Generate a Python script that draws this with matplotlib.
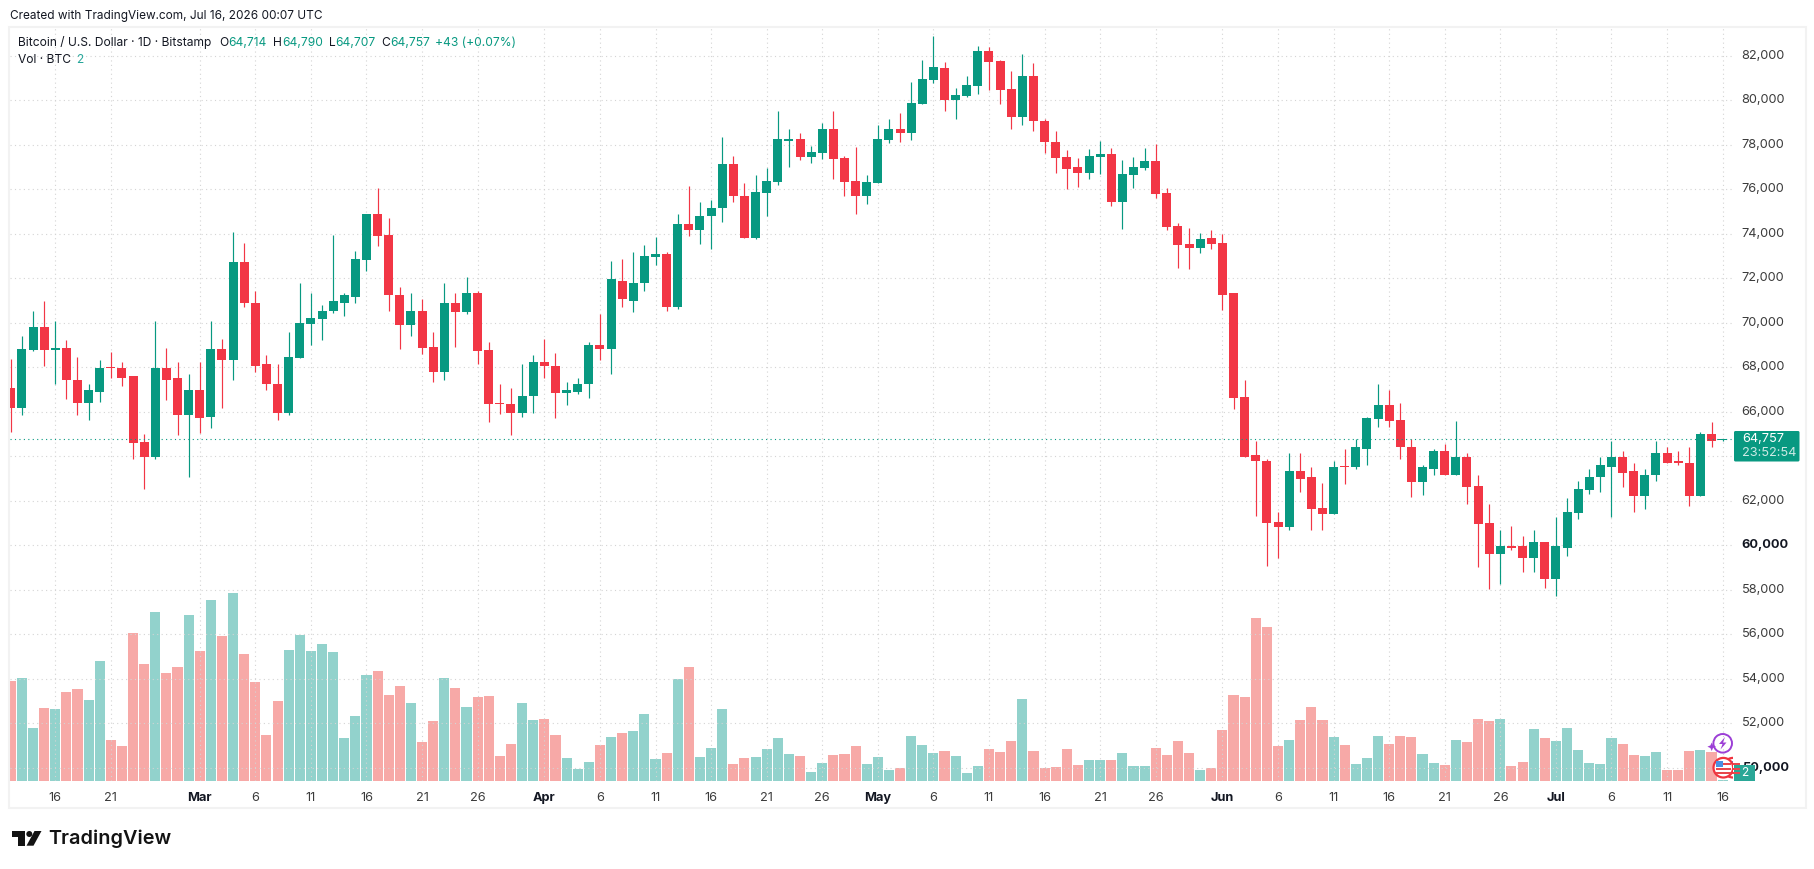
import numpy as np
import pandas as pd
import matplotlib
matplotlib.use("Agg")
import matplotlib.pyplot as plt
from matplotlib.patches import Circle, FancyBboxPatch, Polygon, Rectangle
from matplotlib.transforms import ScaledTranslation

plt.rcParams["font.family"] = ["Inter", "DejaVu Sans"]

# daily BTC/USD candles from 12 Feb 2026
dates = pd.date_range("2026-02-12", periods=155, freq="D")

opens = [
    67050, 66150, 68760, 69790, 68760, 68850, 67450, 66380, 66910, 67990,
    67950, 67590, 64620, 63990, 67990, 67500, 65840, 66960, 65750, 68800,
    68310, 72710, 70910, 68130, 67270, 65930, 68400, 69930, 70150, 70510,
    70910, 71180, 72800, 74870, 73930, 71230, 69880, 70510, 68890, 67810,
    70870, 70470, 71320, 68760, 66380, 66330, 65930, 66690, 68220, 68080,
    66830, 66910, 67230, 68980, 68800, 71900, 71000, 71770, 72940, 73070,
    70690, 74460, 74150, 74780, 75140, 77120, 75720, 73790, 75810, 76310,
    78190, 78280, 77430, 77610, 78690, 77390, 76350, 75720, 76260, 78200,
    78690, 78510, 79810, 80890, 81430, 79990, 80170, 80620, 82200, 81750,
    80490, 79270, 81070, 79090, 78110, 77430, 76980, 76710, 77430, 77570,
    75410, 76620, 76940, 77250, 75810, 74330, 73520, 73340, 73790, 73570,
    71320, 66650, 64040, 63810, 61030, 60800, 63320, 63050, 61660, 61390,
    63540, 63500, 64350, 65660, 66290, 65610, 64440, 62830, 63450, 64220,
    63180, 63950, 62650, 60980, 59630, 59990, 59950, 59410, 60170, 58470,
    59900, 61430, 62470, 63050, 63540, 63990, 63320, 62200, 63140, 64130,
    63770, 63720, 62200, 64980, 64714,
]
highs = [
    68350, 69390, 70510, 70960, 70060, 69210, 68440, 67270, 68310, 68670,
    68220, 67630, 64980, 70060, 68850, 68220, 67720, 68220, 70100, 69250,
    74060, 73570, 71410, 68530, 68170, 69570, 71770, 71320, 70820, 73930,
    71320, 73210, 74910, 76040, 74690, 71590, 71360, 71090, 69570, 71810,
    71360, 72040, 71410, 69120, 67230, 67050, 68130, 68530, 69250, 68620,
    67360, 67540, 69120, 70380, 72760, 72850, 73160, 73480, 73840, 73160,
    74910, 76130, 75450, 75540, 78370, 77480, 76260, 76620, 76940, 79500,
    78690, 78550, 77930, 78960, 79500, 77480, 77880, 76620, 78910, 79180,
    79450, 80800, 81790, 82870, 81700, 80530, 81070, 82460, 82380, 81790,
    81300, 82060, 81660, 79180, 78600, 77750, 77390, 77790, 78150, 77840,
    77300, 77430, 77840, 78020, 76040, 74470, 74240, 74020, 74150, 73970,
    71320, 67410, 64670, 63900, 61480, 64170, 64170, 63500, 62780, 63810,
    64350, 64760, 65750, 67230, 66960, 66380, 64760, 63590, 64310, 64530,
    65570, 64170, 63140, 61840, 60670, 60850, 60440, 60670, 60170, 61250,
    62110, 62870, 63450, 63950, 64670, 64260, 63720, 63450, 64670, 64440,
    64220, 64400, 65070, 65520, 64790,
]
lows = [
    65070, 65840, 68710, 68040, 67270, 66560, 65840, 65610, 66420, 67500,
    67140, 63860, 62510, 63900, 66510, 64940, 63050, 65030, 65250, 66150,
    67410, 70690, 67770, 66960, 65610, 65840, 68400, 68980, 69210, 70420,
    70290, 70870, 72310, 73430, 70510, 68800, 69390, 68580, 67360, 67450,
    68890, 70380, 68130, 65520, 65880, 64940, 65750, 65930, 67540, 65700,
    66290, 66780, 66600, 68340, 67720, 70690, 70470, 71450, 72580, 70510,
    70600, 73880, 73520, 73300, 74550, 75450, 73790, 73750, 74820, 76170,
    76980, 77300, 77160, 77340, 76440, 75680, 74910, 75320, 76260, 78060,
    78110, 78200, 79810, 80760, 79500, 79180, 80130, 80260, 80440, 79810,
    78730, 78910, 78600, 77610, 76710, 75990, 76080, 76440, 76670, 75270,
    74200, 76040, 76850, 75590, 74150, 72440, 72400, 73120, 73300, 70560,
    66110, 63990, 61300, 59090, 59450, 60710, 62380, 60710, 60670, 61390,
    62740, 63410, 63630, 65300, 65300, 63860, 62150, 62240, 63140, 63180,
    63180, 61840, 59010, 58020, 58240, 59770, 58780, 58780, 58060, 57700,
    59500, 61160, 62290, 62380, 61250, 62600, 61480, 61610, 62870, 63720,
    63590, 61750, 62200, 64440, 64707,
]
closes = [
    66150, 68800, 69790, 68760, 68850, 67410, 66380, 66960, 67990, 67950,
    67540, 64580, 63990, 67990, 67450, 65840, 66960, 65700, 68800, 68310,
    72710, 70870, 68080, 67230, 65930, 68440, 69970, 70200, 70510, 70960,
    71230, 72850, 74870, 73880, 71230, 69880, 70510, 68850, 67810, 70870,
    70470, 71320, 68710, 66330, 66330, 65930, 66730, 68220, 68040, 66830,
    66960, 67270, 68980, 68800, 71950, 71050, 71810, 72980, 73070, 70690,
    74460, 74150, 74820, 75180, 77120, 75680, 73790, 75860, 76350, 78240,
    78280, 77430, 77660, 78690, 77340, 76310, 75720, 76310, 78240, 78690,
    78510, 79860, 80940, 81480, 79990, 80220, 80670, 82200, 81700, 80440,
    79230, 81070, 79050, 78110, 77390, 76890, 76710, 77480, 77570, 75410,
    76670, 76980, 77250, 75770, 74290, 73480, 73340, 73750, 73520, 71270,
    66600, 63990, 63770, 60980, 60800, 63320, 62990, 61610, 61390, 63540,
    63500, 64440, 65700, 66290, 65570, 64400, 62830, 63500, 64220, 63180,
    63950, 62600, 60940, 59630, 59990, 59900, 59410, 60170, 58470, 59950,
    61480, 62510, 63090, 63590, 63990, 63270, 62200, 63180, 64130, 63720,
    63720, 62200, 64980, 64670, 64757,
]
volumes = [
    200, 206, 106, 146, 144, 178, 184, 162, 240, 82,
    70, 296, 234, 338, 216, 228, 332, 260, 362, 290,
    376, 254, 198, 92, 160, 262, 292, 260, 274, 258,
    86, 130, 212, 220, 172, 190, 156, 78, 120, 206,
    186, 148, 168, 170, 50, 74, 156, 122, 124, 92,
    46, 24, 38, 72, 88, 96, 100, 134, 44, 56,
    204, 228, 48, 66, 144, 34, 46, 48, 64, 86,
    54, 50, 18, 36, 52, 54, 70, 34, 48, 22,
    26, 90, 72, 56, 60, 50, 16, 30, 64, 58,
    80, 164, 60, 26, 28, 64, 32, 42, 42, 42,
    56, 30, 30, 66, 52, 80, 56, 22, 26, 102,
    172, 168, 326, 308, 70, 82, 122, 148, 122, 88,
    72, 34, 46, 90, 74, 90, 88, 54, 36, 32,
    82, 78, 124, 120, 124, 30, 38, 104, 86, 80,
    106, 62, 36, 34, 86, 74, 52, 50, 58, 22,
    22, 60, 62, 58, 2,
]

price_ticks = np.arange(50000, 84000, 2000)
bold_prices = [50000, 60000]
date_ticks = [
    "2026-02-16", "2026-02-21", "2026-03-01", "2026-03-06", "2026-03-11",
    "2026-03-16", "2026-03-21", "2026-03-26", "2026-04-01", "2026-04-06",
    "2026-04-11", "2026-04-16", "2026-04-21", "2026-04-26", "2026-05-01",
    "2026-05-06", "2026-05-11", "2026-05-16", "2026-05-21", "2026-05-26",
    "2026-06-01", "2026-06-06", "2026-06-11", "2026-06-16", "2026-06-21",
    "2026-06-26", "2026-07-01", "2026-07-06", "2026-07-11", "2026-07-16",
]
last_price = closes[-1]

GREEN = "#089981"
RED = "#F23645"
VOL_GREEN = "#92D2CC"
VOL_RED = "#F7A9A7"
GRID = "#d4d4d4"
TEXT = "#131722"
AXIS_TEXT = "#3c3c3c"

W, H = 1815, 869
PANE_L, PANE_R, PANE_T, PANE_B = 10, 1732, 28, 781
BAR_STEP = 11.116
USD_PER_PX = 44.94

fig = plt.figure(figsize=(W / 100, H / 100), dpi=100, facecolor="white")
ax = fig.add_axes([PANE_L / W, 1 - PANE_B / H, (PANE_R - PANE_L) / W, (PANE_B - PANE_T) / H])
ax_vol = ax.twinx()
ax.set_zorder(2)
ax_vol.set_zorder(1)
ax.patch.set_visible(False)

x = np.arange(len(dates))
o, h, l, c = map(np.array, (opens, highs, lows, closes))
up = c >= o
colors = np.where(up, GREEN, RED)

# x limits and price limits follow from the pane size in pixels
ax.set_xlim(-0.07, -0.07 + (PANE_R - PANE_L) / BAR_STEP)
ax.set_ylim(60000 + (545.3 - PANE_B) * USD_PER_PX, 60000 + (545.3 - PANE_T) * USD_PER_PX)
ax_vol.set_ylim(0, (PANE_B - PANE_T) * 2)

# volume histogram sits at the bottom of the pane
ax_vol.bar(x, volumes, width=10.1 / BAR_STEP, color=np.where(up, VOL_GREEN, VOL_RED), linewidth=0)
ax_vol.tick_params(left=False, right=False, labelleft=False, labelright=False)

# candles
ax.vlines(x, l, h, color=colors, linewidth=0.85, zorder=3)
ax.bar(x, np.maximum(np.abs(c - o), 45), bottom=np.minimum(o, c), width=9 / BAR_STEP,
       color=colors, linewidth=0, zorder=4)

ax.axhline(last_price, color=GREEN, linewidth=0.8, linestyle=(0, (1, 3)), zorder=5)

# grid and ticks
tick_pos = [(pd.Timestamp(d) - dates[0]).days for d in date_ticks]
tick_labels = []
for d in date_ticks:
    ts = pd.Timestamp(d)
    tick_labels.append(ts.strftime("%b") if ts.day == 1 else str(ts.day))
ax.set_xticks(tick_pos, tick_labels)
# the 64,000 label sits under the last price badge
ax.set_yticks(price_ticks, ["" if p == 64000 else f"{p:,}" for p in price_ticks])
ax.yaxis.tick_right()
ax.tick_params(axis="x", length=0, pad=8, labelsize=9.2, labelcolor=AXIS_TEXT)
ax.tick_params(axis="y", length=0, pad=7, labelsize=9.2, labelcolor=AXIS_TEXT)
for lbl, d in zip(ax.get_xticklabels(), date_ticks):
    if pd.Timestamp(d).day == 1:
        lbl.set_fontweight("bold")
        lbl.set_color(TEXT)
nudge = ScaledTranslation(0, 1.5 / 72 * 0.72, fig.dpi_scale_trans)
for lbl, p in zip(ax.get_yticklabels(), price_ticks):
    lbl.set_transform(lbl.get_transform() + nudge)
    if p in bold_prices:
        lbl.set_fontweight("bold")
        lbl.set_color(TEXT)
ax.grid(True, color=GRID, linewidth=0.8, linestyle=(0, (1, 3)), zorder=0)
ax.set_axisbelow(True)
for spine in list(ax.spines.values()) + list(ax_vol.spines.values()):
    spine.set_visible(False)

# overlay in pixel coordinates for the frame, header, badges and logo
ov = fig.add_axes([0, 0, 1, 1], zorder=5)
ov.set_xlim(0, W)
ov.set_ylim(H, 0)
ov.axis("off")
ov.add_patch(Rectangle((9, 27), 1797, 781, fill=False, edgecolor="#f2f2f2", linewidth=1.5))


def label(px, py, text, color=TEXT, size=8.65, **kw):
    ov.text(px, py, text, color=color, fontsize=size, va="center", **kw)


label(10, 15.5, "Created with TradingView.com, Jul 16, 2026 00:07 UTC", size=8.5)
label(18.5, 42.5, "Bitcoin / U.S. Dollar · 1D · Bitstamp")
for px, name in [(219, "O"), (273, "H"), (329, "L"), (381.5, "C")]:
    label(px, 42.5, name)
for px, value in [(228.5, opens[-1]), (282, highs[-1]), (335.5, lows[-1]), (390, closes[-1])]:
    label(px, 42.5, f"{value:,}", color=GREEN)
label(435.5, 42.5, "+43 (+0.07%)", color=GREEN)
label(18.5, 60, "Vol · BTC")
label(76.5, 60, str(volumes[-1]), color="#26a69a")

# last price badge
ov.add_patch(FancyBboxPatch((1734, 431), 65.5, 30.5, boxstyle="round,pad=0,rounding_size=1.5",
                            facecolor=GREEN, edgecolor="none"))
label(1742, 439.5, f"{last_price:,}", color="white", size=9.2)
label(1742, 452.5, "23:52:54", color="#cdeae5", size=9.2)

# volume badge
ov.add_patch(Rectangle((1734, 765), 21, 16, facecolor="#2aa797", edgecolor="none"))
label(1744.5, 773, str(volumes[-1]), color="white", ha="center")

# event markers at the last bar
PURPLE = "#9C3FD6"
ov.add_patch(Circle((1722.7, 743.3), 9.3, fill=False, edgecolor=PURPLE, linewidth=1.4))
ov.add_patch(Polygon([(1725, 737), (1719, 744), (1722.5, 744), (1720.5, 749.5), (1726.5, 742.5), (1723, 742.5)],
                     facecolor=PURPLE, edgecolor="none"))
ov.add_patch(Polygon([(1711.7, 742.5), (1713, 745.4), (1716, 746.7), (1713, 748), (1711.7, 751),
                      (1710.4, 748), (1707.4, 746.7), (1710.4, 745.4)], facecolor=PURPLE, edgecolor="none"))
flag_clip = Rectangle((1700, 755), 33.5, 26, transform=ov.transData)
for cx, zo in [(1733, 6), (1723.3, 7)]:
    disc = Circle((cx, 767.7), 9.8, facecolor="white", edgecolor="#F0333F", linewidth=1.6, zorder=zo)
    ov.add_patch(disc)
    disc.set_clip_path(flag_clip)
    for sy in (762.5, 767.5, 771.5):
        stripe = Rectangle((cx - 7.5, sy), 15, 2.4, facecolor="#E8474C", edgecolor="none", zorder=zo + 0.1)
        ov.add_patch(stripe)
        stripe.set_clip_path(disc)
    canton = Rectangle((cx - 7.5, 761), 7.5, 6, facecolor="#4A90E2", edgecolor="none", zorder=zo + 0.2)
    ov.add_patch(canton)
    canton.set_clip_path(disc)

# logo
ov.add_patch(Polygon([(12.3, 831), (25.3, 831), (25.3, 845.7), (18.3, 845.7), (18.3, 837), (12.3, 837)],
                     facecolor="#131313", edgecolor="none"))
ov.add_patch(Circle((29.3, 834), 3, facecolor="#131313", edgecolor="none"))
ov.add_patch(Polygon([(34.5, 831), (41.5, 831), (33.5, 845.7), (26.5, 845.7)], facecolor="#131313", edgecolor="none"))
label(48.5, 838.5, "TradingView", color="#131313", size=14.3, fontweight="semibold")

fig.savefig("out.png", dpi=100)
